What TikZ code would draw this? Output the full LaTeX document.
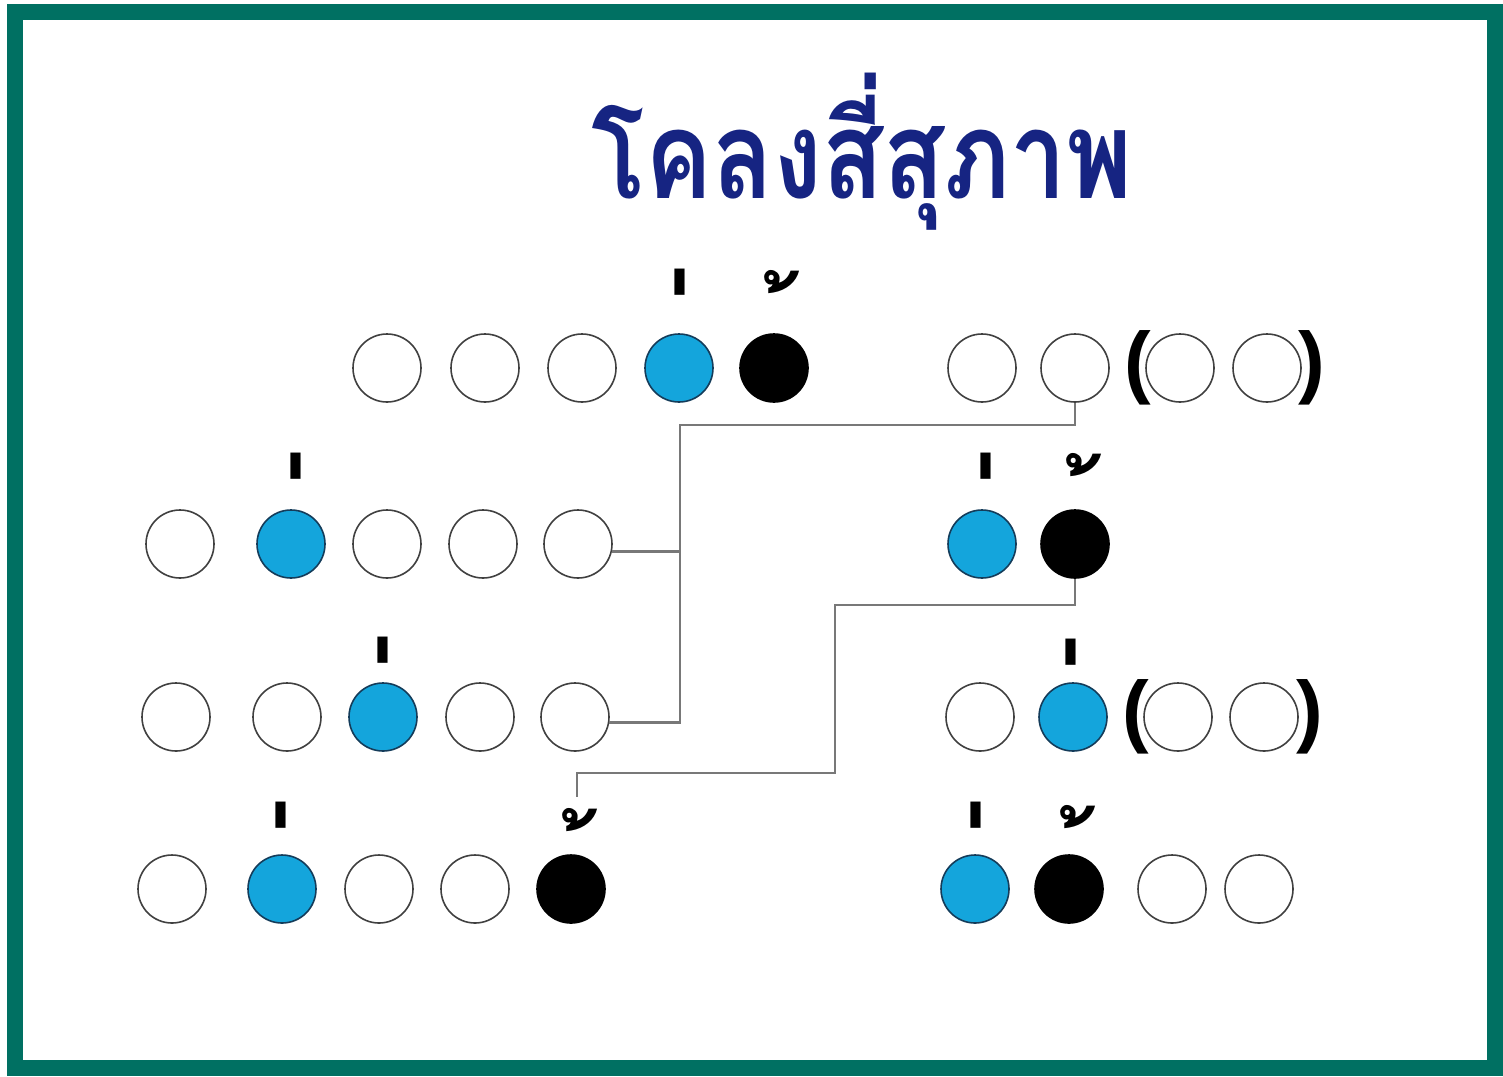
\documentclass[tikz,border=0pt]{standalone}
\usepackage{fontspec}
\newfontfamily\thaifont[Script=Thai]{Loma}
\newfontfamily\markfont{Loma}
\newfontfamily\parenfont{Liberation Sans}
\definecolor{frame}{RGB}{0,112,98}
\definecolor{navy}{RGB}{22,36,130}
\definecolor{ekblue}{RGB}{20,165,220}
\definecolor{ekedge}{RGB}{20,60,90}
\definecolor{linkgray}{RGB}{120,120,120}
\begin{document}
\begin{tikzpicture}[x=1pt,y=-1pt,
  syl/.style={circle, draw=black!75, line width=1.6pt, minimum size=68pt, inner sep=0pt, fill=white},
  eksyl/.style={syl, fill=ekblue, draw=ekedge},
  thosyl/.style={syl, fill=black, draw=black},
  tmark/.style={font=\markfont\bfseries\fontsize{120}{120}\selectfont, inner sep=0pt, text=black},
  ekmark/.style={tmark, xscale=0.75, yscale=1.6},
  thomark/.style={tmark, xscale=0.8, yscale=0.85},
  paren/.style={font=\parenfont\bfseries\fontsize{80}{80}\selectfont, inner sep=0pt},
  link/.style={draw=linkgray, line width=2.6pt}]
\useasboundingbox (0,0) rectangle (1503,1076);
\draw[frame, line width=16pt] (15,12) rectangle (1495,1068);
\node[font=\thaifont\bfseries\fontsize{122}{122}\selectfont, text=navy, xscale=0.82] (title) at (862,152) {โคลงสี่สุภาพ};
% row 1
\node[syl] (a1) at (387,368) {};
\node[syl] (a2) at (485,368) {};
\node[syl] (a3) at (582,368) {};
\node[eksyl] (a4) at (679,368) {};
\node[thosyl] (a5) at (774,368) {};
\node[syl] (a6) at (982,368) {};
\node[syl] (a7) at (1075,368) {};
\node[paren] (a8l) at (1138,368) {(};
\node[syl] (a8) at (1180,368) {};
\node[syl] (a9) at (1267,368) {};
\node[paren] (a9r) at (1312,368) {)};
% row 2
\node[syl] (b1) at (180,544) {};
\node[eksyl] (b2) at (291,544) {};
\node[syl] (b3) at (387,544) {};
\node[syl] (b4) at (483,544) {};
\node[syl] (b5) at (578,544) {};
\node[eksyl] (b6) at (982,544) {};
\node[thosyl] (b7) at (1075,544) {};
% row 3
\node[syl] (c1) at (176,717) {};
\node[syl] (c2) at (287,717) {};
\node[eksyl] (c3) at (383,717) {};
\node[syl] (c4) at (480,717) {};
\node[syl] (c5) at (575,717) {};
\node[syl] (c6) at (980,717) {};
\node[eksyl] (c7) at (1073,717) {};
\node[paren] (c8l) at (1136,717) {(};
\node[syl] (c8) at (1178,717) {};
\node[syl] (c9) at (1264,717) {};
\node[paren] (c9r) at (1310,717) {)};
% row 4
\node[syl] (d1) at (172,889) {};
\node[eksyl] (d2) at (282,889) {};
\node[syl] (d3) at (379,889) {};
\node[syl] (d4) at (475,889) {};
\node[thosyl] (d5) at (571,889) {};
\node[eksyl] (d6) at (975,889) {};
\node[thosyl] (d7) at (1069,889) {};
\node[syl] (d8) at (1172,889) {};
\node[syl] (d9) at (1259,889) {};
% tone marks (ek: +12,+86 ; tho: +15,+42 from the visible mark centre)
\node[ekmark] (ma4) at (691,368) {่};
\node[thomark] (ma5) at (796,324) {้};
\node[ekmark] (mb2) at (307,552) {่};
\node[ekmark] (mb6) at (997,552) {่};
\node[thomark] (mb7) at (1098,507) {้};
\node[ekmark] (mc3) at (394,736) {่};
\node[ekmark] (mc7) at (1082,738) {่};
\node[ekmark] (md2) at (292,901) {่};
\node[thomark] (md5) at (594,862) {้};
\node[ekmark] (md6) at (987,901) {่};
\node[thomark] (md7) at (1092,859) {้};
% links
\coordinate (j1) at (680,425);
\draw[link] (a7.south) |- (j1) -- (j1 |- c5.-9) -- (c5.-9);
\draw[link] (b5.-12) -- (j1 |- b5.-12);
\coordinate (j2) at (835,605);
\coordinate (e2) at (577,797);
\draw[link] (b7.south) |- (j2) |- (577,773) -- (e2);
\end{tikzpicture}
\end{document}
